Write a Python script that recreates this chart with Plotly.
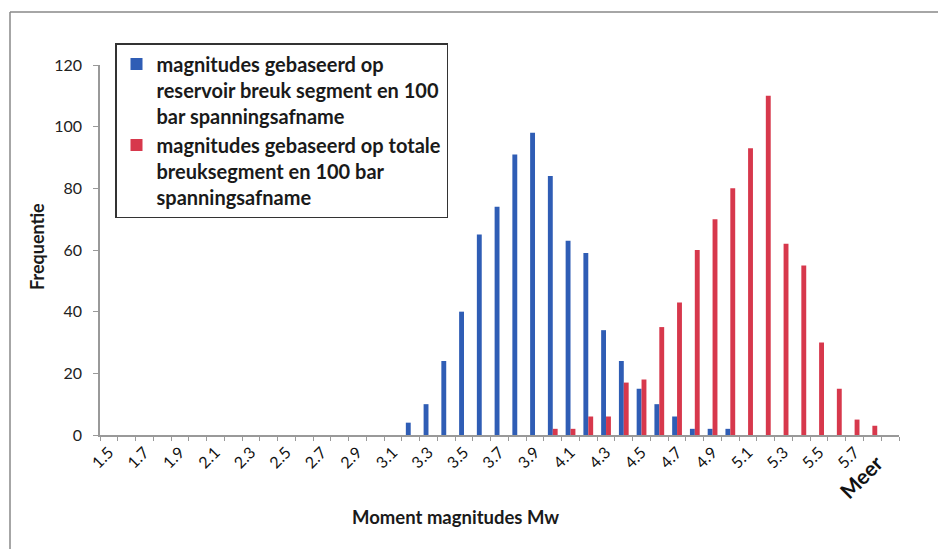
import plotly.graph_objects as go

categories = [f"{v/10:.1f}" for v in range(15, 59)] + ["Meer"]
tick_labels = [c if i % 2 == 0 else "" for i, c in enumerate(categories)]
tick_labels[-1] = "<span style='font-size:21px'><b>Meer</b>&nbsp;&nbsp;&nbsp;</span>"

# values per category (1.5 ... 5.8, Meer)
blue_vals = [0]*17 + [4, 10, 24, 40, 65, 74, 91, 98, 84, 63, 59, 34, 24, 15, 10, 6, 2, 2, 2] + [0]*9
red_vals = [0]*25 + [2, 2, 6, 6, 17, 18, 35, 43, 60, 70, 80, 93, 110, 62, 55, 30, 15, 5, 3, 0]

series_names = [
    "magnitudes gebaseerd op<br>reservoir breuk segment en 100<br>bar spanningsafname",
    "magnitudes gebaseerd op totale<br>breuksegment en 100 bar<br>spanningsafname",
]

fig = go.Figure()
fig.add_trace(go.Bar(x=categories, y=blue_vals, name=series_names[0],
                     marker=dict(color="#2F5DB5", line=dict(width=0))))
fig.add_trace(go.Bar(x=categories, y=red_vals, name=series_names[1],
                     marker=dict(color="#D7384C", line=dict(width=0))))

OFF = 8  # page body margin
W, H = 946 - OFF, 549 - OFF
L, T = 100 - OFF, 65 - OFF
R = W - (899 - OFF)
B = H - (435 - OFF)
pw, ph = W - L - R, H - T - B

def px(x):
    return (x - OFF - L) / pw

def py(y):
    return (H - B - (y - OFF)) / ph

fig.update_layout(
    width=W, height=H,
    margin=dict(l=L, r=R, t=T, b=B),
    paper_bgcolor="white", plot_bgcolor="white",
    font=dict(family="Lato", color="#222"),
    barmode="group", bargap=0.45, bargroupgap=0,
    showlegend=True,
    legend=dict(
        x=px(115), y=py(43), xanchor="left", yanchor="top",
        bordercolor="#333", borderwidth=1.5, bgcolor="white",
        font=dict(family="Lato", size=20, color="#1a1a1a", weight="bold"),
        valign="top", tracegroupgap=6, itemwidth=30,
    ),
    xaxis=dict(
        type="category", tickmode="array", tickvals=categories, ticktext=tick_labels,
        tickson="boundaries", ticks="outside", ticklen=4, tickcolor="#999",
        showline=True, linecolor="#999", linewidth=1.5, tickangle=-45,
        tickfont=dict(family="Lato", size=16, color="#111"),
        showgrid=False, range=[-0.5, 44.5],
    ),
    yaxis=dict(
        range=[0, 120], dtick=20, ticks="outside", ticklen=5, tickcolor="#999",
        showline=True, linecolor="#999", linewidth=1.5, showgrid=False, zeroline=False,
        tickfont=dict(family="Lato", size=16, color="#222"), ticklabelstandoff=8,
    ),
    annotations=[
        dict(text="<b>Moment magnitudes Mw</b>", xref="paper", yref="paper",
             x=px(455), y=py(517), showarrow=False, xanchor="center", yanchor="middle",
             font=dict(family="Lato", size=18.5, color="#1a1a1a")),
        dict(text="<b>Frequentie</b>", xref="paper", yref="paper",
             x=px(37), y=py(247), showarrow=False, xanchor="center", yanchor="middle",
             textangle=-90, font=dict(family="Lato", size=18, color="#1a1a1a")),
    ],
    shapes=[
        dict(type="line", xref="paper", yref="paper", x0=px(10), x1=px(10),
             y0=py(12), y1=py(549), line=dict(color="#888", width=1.5)),
        dict(type="line", xref="paper", yref="paper", x0=px(10), x1=px(946),
             y0=py(12), y1=py(12), line=dict(color="#888", width=1.5)),
    ],
)

fig.write_html("out.html")
